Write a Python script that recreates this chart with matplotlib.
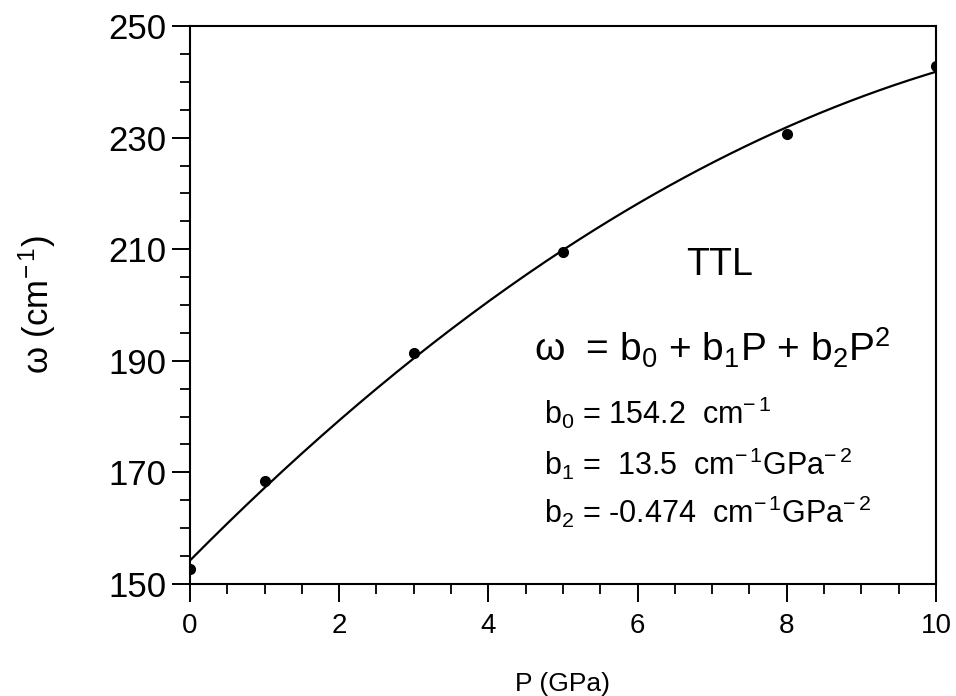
import numpy as np
import matplotlib
matplotlib.use("Agg")
import matplotlib.pyplot as plt
from matplotlib.ticker import MultipleLocator

plt.rcParams['font.family'] = ['Liberation Sans', 'DejaVu Sans']
plt.rcParams['mathtext.fontset'] = 'custom'
plt.rcParams['mathtext.rm'] = 'Liberation Sans'
plt.rcParams['mathtext.it'] = 'Liberation Sans'
plt.rcParams['mathtext.sf'] = 'Liberation Sans'

# data
pressure = [0, 1, 3, 5, 8, 10]
omega = [152.7, 168.4, 191.4, 209.5, 230.7, 242.8]

# fit coefficients printed on the chart
b0, b1, b2 = 154.2, 13.5, -0.474

x_ticks = [0, 2, 4, 6, 8, 10]
y_ticks = [150, 170, 190, 210, 230, 250]

fig = plt.figure(figsize=(9.56, 6.96), dpi=100)
ax = fig.add_axes([0.1987, 0.161, 0.7803, 0.8016])

pf = np.linspace(0, 10, 200)
ax.plot(pf, b0 + b1 * pf + b2 * pf ** 2, color='black', lw=1.6)
ax.plot(pressure, omega, 'o', color='black', markersize=7)

ax.set_xlim(0, 10)
ax.set_ylim(150, 250)
ax.set_xticks(x_ticks)
ax.set_yticks(y_ticks)
ax.xaxis.set_minor_locator(MultipleLocator(0.5))
ax.yaxis.set_minor_locator(MultipleLocator(5))
ax.tick_params(axis='x', which='major', direction='out', length=13, width=1.4, labelsize=20, pad=8)
ax.tick_params(axis='x', which='minor', direction='out', length=7, width=1.3)
ax.tick_params(axis='y', which='major', direction='out', length=13, width=1.4, labelsize=25, pad=4)
ax.tick_params(axis='y', which='minor', direction='out', length=7, width=1.3)
for s in ax.spines.values():
    s.set_linewidth(1.5)

ax.set_xlabel('P (GPa)', fontsize=19, labelpad=24)
ax.set_ylabel(r'$\omega$ (cm$^{-\,1}$)', fontsize=25, labelpad=36)

ax.text(7.1, 207.2, 'TTL', fontsize=27, ha='center', va='center')
ax.text(7.0, 192.3, r'$\omega$  = b$_0$ + b$_1$P + b$_2$P$^2$', fontsize=28, ha='center', va='center')
ax.text(4.75, 180.6, r'b$_0$ = 154.2  cm$^{-\,1}$', fontsize=22, ha='left', va='center')
ax.text(4.75, 171.5, r'b$_1$ =  13.5  cm$^{-\,1}$GPa$^{-\,2}$', fontsize=22, ha='left', va='center')
ax.text(4.75, 163.0, r'b$_2$ = -0.474  cm$^{-\,1}$GPa$^{-\,2}$', fontsize=22, ha='left', va='center')

fig.savefig('out.png', dpi=100)
